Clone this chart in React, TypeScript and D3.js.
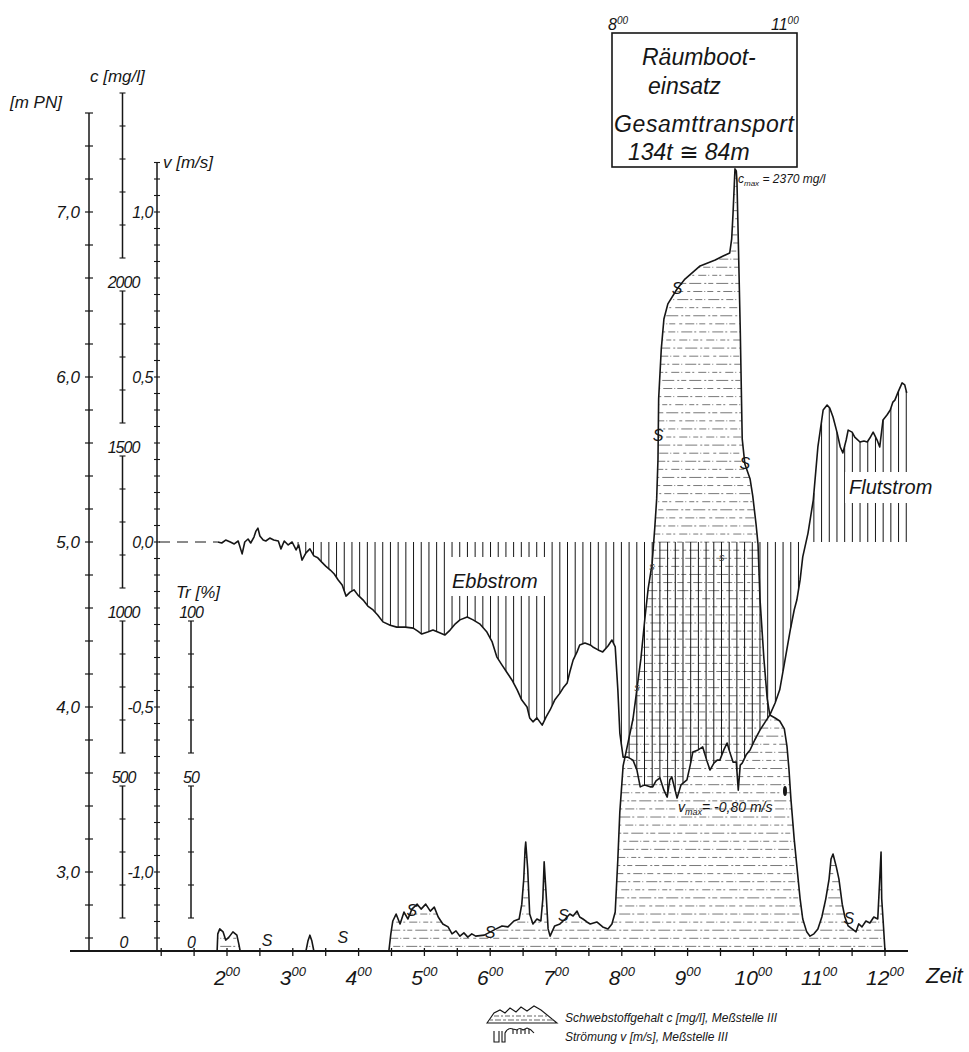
import React from "react";
import * as d3 from "d3";

// ---------------- data ----------------
const hourTicks = [2, 3, 4, 5, 6, 7, 8, 9, 10, 11, 12];
const mpnTickLabels = [7, 6, 5, 4, 3];
const cTickLabels = [0, 500, 1000, 1500, 2000];
const vTickLabels = [1, 0.5, 0, -0.5, -1];
const trTickLabels = [0, 50, 100];

// Strömung v [m/s], Meßstelle III  (time in hours)
const vTime = [
  1.86, 1.92, 1.98, 2.05, 2.11, 2.17, 2.23, 2.27, 2.32, 2.36,
  2.41, 2.44, 2.47, 2.50, 2.55, 2.59, 2.65, 2.71, 2.78, 2.82,
  2.87, 2.93, 2.99, 3.05, 3.09, 3.14, 3.20, 3.26, 3.32, 3.38,
  3.44, 3.50, 3.57, 3.63, 3.69, 3.75, 3.81, 3.87, 3.93, 3.99,
  4.07, 4.14, 4.22, 4.29, 4.37, 4.48, 4.58, 4.71, 4.83, 4.90,
  4.96, 5.05, 5.13, 5.24, 5.31, 5.39, 5.47, 5.54, 5.65, 5.74,
  5.84, 5.95, 6.03, 6.10, 6.18, 6.26, 6.33, 6.41, 6.48, 6.56,
  6.60, 6.65, 6.71, 6.79, 6.85, 6.91, 6.98, 7.06, 7.11, 7.17,
  7.21, 7.26, 7.32, 7.36, 7.44, 7.52, 7.56, 7.64, 7.71, 7.79,
  7.85, 7.90, 7.94, 7.97, 8.02, 8.09, 8.17, 8.23, 8.28, 8.35,
  8.43, 8.47, 8.52, 8.58, 8.64, 8.69, 8.73, 8.76, 8.81, 8.84,
  8.90, 8.99, 9.04, 9.08, 9.16, 9.23, 9.29, 9.34, 9.40, 9.45,
  9.49, 9.55, 9.60, 9.64, 9.69, 9.74, 9.77, 9.80, 9.83, 9.89,
  9.95, 10.02, 10.10, 10.18, 10.25, 10.33, 10.40, 10.48, 10.56, 10.62,
  10.66, 10.71, 10.75, 10.83, 10.91, 10.98, 11.06, 11.12, 11.16, 11.21,
  11.27, 11.32, 11.36, 11.41, 11.44, 11.50, 11.54, 11.62, 11.68, 11.73,
  11.77, 11.82, 11.88, 11.92, 11.97, 12.03, 12.08, 12.12, 12.15, 12.20,
  12.26, 12.30, 12.33,
];
const vValue = [
  0, -0.003, 0.006, 0, -0.006, 0.003, -0.036, 0, 0.009, -0.003,
  0.015, 0.033, 0.042, 0.018, 0.006, 0.003, 0.012, 0.006, 0.003, -0.021,
  0.003, -0.009, 0, -0.024, -0.009, -0.055, -0.033, -0.021, -0.042, -0.048,
  -0.061, -0.073, -0.085, -0.097, -0.115, -0.13, -0.164, -0.152, -0.145, -0.161,
  -0.176, -0.194, -0.206, -0.221, -0.242, -0.252, -0.258, -0.258, -0.261, -0.27,
  -0.279, -0.273, -0.267, -0.276, -0.282, -0.267, -0.248, -0.236, -0.227, -0.236,
  -0.248, -0.273, -0.303, -0.348, -0.373, -0.397, -0.418, -0.448, -0.479, -0.5,
  -0.533, -0.545, -0.533, -0.555, -0.53, -0.509, -0.479, -0.458, -0.442, -0.427,
  -0.394, -0.358, -0.333, -0.312, -0.306, -0.312, -0.318, -0.327, -0.333, -0.315,
  -0.297, -0.318, -0.448, -0.579, -0.652, -0.652, -0.661, -0.691, -0.742, -0.736,
  -0.742, -0.742, -0.724, -0.715, -0.752, -0.773, -0.721, -0.712, -0.752, -0.776,
  -0.736, -0.721, -0.676, -0.636, -0.63, -0.621, -0.661, -0.691, -0.67, -0.661,
  -0.661, -0.63, -0.609, -0.636, -0.667, -0.667, -0.752, -0.676, -0.67, -0.645,
  -0.63, -0.6, -0.57, -0.545, -0.524, -0.488, -0.448, -0.358, -0.267, -0.206,
  -0.176, -0.115, -0.045, 0.027, 0.127, 0.288, 0.4, 0.415, 0.406, 0.379,
  0.333, 0.288, 0.27, 0.309, 0.339, 0.333, 0.318, 0.303, 0.306, 0.303,
  0.315, 0.333, 0.309, 0.288, 0.37, 0.385, 0.4, 0.424, 0.43, 0.455,
  0.482, 0.476, 0.452,
];

// Schwebstoffgehalt c [mg/l], Meßstelle III
const cTime = [
  1.82, 1.85, 1.86, 1.89, 1.94, 1.98, 2.03, 2.09, 2.15, 2.18,
  2.20, 3.20, 3.23, 3.26, 3.29, 3.32, 4.46, 4.49, 4.52, 4.57,
  4.63, 4.69, 4.75, 4.81, 4.89, 4.95, 5.02, 5.09, 5.15, 5.21,
  5.28, 5.36, 5.42, 5.48, 5.54, 5.60, 5.66, 5.72, 5.78, 5.91,
  6.09, 6.18, 6.27, 6.36, 6.44, 6.48, 6.51, 6.53, 6.54, 6.57,
  6.60, 6.65, 6.71, 6.77, 6.80, 6.82, 6.85, 6.88, 6.91, 6.98,
  7.06, 7.14, 7.21, 7.26, 7.32, 7.36, 7.41, 7.47, 7.52, 7.62,
  7.71, 7.79, 7.85, 7.90, 7.94, 7.97, 8.02, 8.09, 8.17, 8.23,
  8.29, 8.35, 8.40, 8.46, 8.50, 8.53, 8.55, 8.56, 8.60, 8.64,
  8.70, 8.84, 8.96, 9.19, 9.42, 9.54, 9.64, 9.67, 9.69, 9.71,
  9.72, 9.74, 9.75, 9.77, 9.80, 9.83, 9.87, 9.95, 9.99, 10.04,
  10.07, 10.10, 10.16, 10.21, 10.25, 10.33, 10.40, 10.47, 10.51, 10.54,
  10.57, 10.62, 10.66, 10.71, 10.75, 10.81, 10.86, 10.92, 10.98, 11.04,
  11.10, 11.15, 11.18, 11.21, 11.26, 11.30, 11.35, 11.39, 11.44, 11.50,
  11.56, 11.60, 11.65, 11.71, 11.77, 11.83, 11.89, 11.92, 11.94, 11.95,
  11.97, 12.00,
];
const cValue = [
  0, 0, 52, 67, 58, 33, 42, 58, 48, 21,
  0, 0, 30, 48, 30, 0, 0, 52, 91, 112,
  82, 118, 97, 127, 142, 127, 142, 121, 133, 103,
  82, 73, 52, 61, 45, 55, 42, 52, 45, 48,
  67, 76, 73, 91, 97, 142, 218, 309, 330, 248,
  112, 82, 97, 91, 158, 270, 173, 67, 45, 76,
  82, 97, 112, 106, 121, 103, 97, 88, 82, 88,
  73, 67, 82, 118, 279, 421, 561, 627, 703, 794,
  885, 1006, 1097, 1173, 1279, 1370, 1491, 1673, 1824, 1915,
  1961, 2006, 2036, 2076, 2094, 2106, 2115, 2158, 2233, 2324,
  2370, 2364, 2333, 2158, 1885, 1552, 1476, 1430, 1379, 1294,
  1233, 1067, 885, 764, 715, 706, 697, 673, 621, 552,
  461, 339, 258, 158, 97, 58, 45, 52, 67, 103,
  158, 218, 279, 294, 255, 218, 142, 103, 76, 67,
  58, 82, 73, 91, 85, 103, 97, 218, 300, 158,
  97, 0,
];

// "S" marks written on the concentration curve
const sMarkTime = [2.61, 3.76, 4.81, 6.0, 7.11, 11.45, 8.84, 8.55, 9.87];
const sMarkConc = [30, 39, 121, 55, 106, 97, 2006, 1561, 1476];
const sSmallTime = [8.23, 8.46, 9.52];
const sSmallConc = [800, 1167, 1194];

// ---------------- layout ----------------
const W = 969;
const H = 1052;
const F = "'Liberation Sans', 'DejaVu Sans', Arial, sans-serif";
const INK = "#161616";
const AX_M = 89;
const AX_C = 122.5;
const AX_V = 157;
const AX_T = 191;
const BASE = 951;

const x = d3.scaleLinear().domain([2, 12]).range([227, 885]);
const yM = d3.scaleLinear().domain([5, 7]).range([542, 212]);
const yV = d3.scaleLinear().domain([0, 1]).range([542, 212]);
const yC = d3.scaleLinear().domain([0, 2000]).range([BASE, BASE - 660]);
const yT = d3.scaleLinear().domain([0, 100]).range([BASE, BASE - 330]);

const comma = (v: number) => (Math.abs(v) < 1e-9 ? "0,0" : v.toFixed(1).replace(".", ","));

export default function App() {
  const vData = vTime.map((t, i) => ({ t, v: vValue[i] }));
  const cData = cTime.map((t, i) => ({ t, c: cValue[i] }));

  const vLine = d3.line<any>().x((d) => x(d.t)).y((d) => yV(d.v));
  const cLine = d3.line<any>().x((d) => x(d.t)).y((d) => yC(d.c));
  const cArea = d3.area<any>().x((d) => x(d.t)).y0(yC(0)).y1((d) => yC(d.c));

  const bis = d3.bisector((d: any) => d.t).left;
  const vAt = (t: number) => {
    const i = bis(vData, t);
    if (i <= 0) return vData[0].v;
    if (i >= vData.length) return vData[vData.length - 1].v;
    const a = vData[i - 1];
    const b = vData[i];
    return a.v + ((b.v - a.v) * (t - a.t)) / (b.t - a.t);
  };

  const hatchTimes = d3.range(3.08, 12.335, 0.117);
  const cHatchLevels = d3.range(14, 2380, 24.5);

  const mTicks = d3.range(2.6, 7.61, 0.2);
  const cTicks = d3.range(100, 2601, 100);
  const vTicks = d3.range(-1.2, 1.151, 0.05);
  const tTicks = d3.range(10, 101, 10);
  const halfHours = d3.range(1, 12.01, 0.5);

  const cSegs = cTickLabels.map((L, i) => [L + 100, i < cTickLabels.length - 1 ? cTickLabels[i + 1] : 2600]);
  const tSegs = trTickLabels.slice(0, -1).map((L, i) => [L + 10, trTickLabels[i + 1]]);

  const txt = { fontFamily: F, fontStyle: "italic" as const, fill: INK };
  const dashes = ["7 2 1 3 11 2 2 3", "3 3 9 2 1 2 6 4", "12 3 2 2 5 3", "5 2 2 4 8 2 1 3"];

  return (
    <svg
      width={W}
      height={H}
      viewBox={`0 0 ${W} ${H}`}
      style={{ position: "absolute", left: 0, top: 0, background: "#fff" }}
    >
      <defs>
        <clipPath id="cclip">
          <path d={cArea(cData) || ""} />
        </clipPath>
      </defs>
      <rect x={0} y={0} width={W} height={H} fill="#fff" />

      {/* concentration fill: horizontal dashed hatching */}
      <g clipPath="url(#cclip)">
        {cHatchLevels.map((lv, i) => (
          <line
            key={i}
            x1={x(1.7) - (i % 3) * 4}
            x2={x(12.1)}
            y1={yC(lv)}
            y2={yC(lv)}
            stroke="#6a6a6a"
            strokeWidth={0.9}
            strokeDasharray={dashes[i % dashes.length]}
          />
        ))}
      </g>

      {/* current hatching (vertical lines) */}
      <g stroke={INK} strokeWidth={1}>
        {hatchTimes.map((t, i) => {
          const v = vAt(t);
          if (Math.abs(v) < 0.004) return null;
          return <line key={i} x1={x(t)} x2={x(t)} y1={yV(0)} y2={yV(v)} />;
        })}
      </g>

      {/* zero line dashed start */}
      <line x1={AX_V + 2} x2={x(vTime[0])} y1={yV(0)} y2={yV(0)} stroke={INK} strokeWidth={1} strokeDasharray="11 7" />

      {/* text knock-outs */}
      <rect x={447} y={557} width={101} height={39} fill="#fff" />
      <rect x={845} y={472} width={95} height={31} fill="#fff" />
      <text {...txt} x={452} y={588} fontSize={20}>Ebbstrom</text>
      <text {...txt} x={849} y={494} fontSize={20}>Flutstrom</text>

      {/* curves */}
      <path d={cLine(cData) || ""} fill="none" stroke={INK} strokeWidth={1.6} strokeLinejoin="round" />
      <path d={vLine(vData) || ""} fill="none" stroke={INK} strokeWidth={1.6} strokeLinejoin="round" />

      {/* S marks */}
      {sMarkTime.map((t, i) => (
        <text key={"s" + i} {...txt} x={x(t)} y={yC(sMarkConc[i]) + 5} fontSize={16} textAnchor="middle">S</text>
      ))}
      {sSmallTime.map((t, i) => (
        <text key={"ss" + i} {...txt} x={x(t)} y={yC(sSmallConc[i]) + 4} fontSize={11} textAnchor="middle" fill="#444">s</text>
      ))}

      {/* x axis */}
      <line x1={70} x2={908} y1={BASE} y2={BASE} stroke={INK} strokeWidth={2} />
      {halfHours.map((h, i) => (
        <line key={i} x1={x(h)} x2={x(h)} y1={BASE - 3} y2={BASE + 5} stroke={INK} strokeWidth={1.3} />
      ))}
      {hourTicks.map((h) => (
        <text key={h} {...txt} x={x(h)} y={985} fontSize={21} textAnchor="middle">
          {h}
          <tspan fontSize={13} dy={-9}>00</tspan>
        </text>
      ))}
      <text {...txt} x={926} y={983} fontSize={22}>Zeit</text>

      {/* m PN axis */}
      <line x1={AX_M} x2={AX_M} y1={yM(7.6)} y2={BASE} stroke={INK} strokeWidth={1.5} />
      {mTicks.map((m, i) => (
        <line key={i} x1={AX_M - 4} x2={AX_M + 4} y1={yM(m)} y2={yM(m)} stroke={INK} strokeWidth={1.2} />
      ))}
      {mpnTickLabels.map((m) => (
        <text key={m} {...txt} x={AX_M - 9} y={yM(m) + 6} fontSize={17} textAnchor="end">{comma(m)}</text>
      ))}
      <text {...txt} x={10} y={108} fontSize={17}>[m PN]</text>

      {/* c axis */}
      {cSegs.map(([a, b], i) => (
        <line key={i} x1={AX_C} x2={AX_C} y1={yC(a)} y2={yC(b)} stroke={INK} strokeWidth={1.5} />
      ))}
      {cTicks.map((c, i) => (
        <line key={i} x1={AX_C - 3} x2={AX_C + 3} y1={yC(c)} y2={yC(c)} stroke={INK} strokeWidth={1.1} />
      ))}
      {cTickLabels.map((c) => (
        <text key={c} {...txt} x={AX_C + 1} y={yC(c) - 3} fontSize={16} textAnchor="middle" letterSpacing={-1}>{c}</text>
      ))}
      <text {...txt} x={90} y={82} fontSize={17}>c [mg/l]</text>

      {/* v axis */}
      <line x1={AX_V} x2={AX_V} y1={yV(1.15)} y2={BASE} stroke={INK} strokeWidth={1.5} />
      {vTicks.map((v, i) => (
        <line key={i} x1={AX_V - 3} x2={AX_V + 3} y1={yV(v)} y2={yV(v)} stroke={INK} strokeWidth={1.1} />
      ))}
      {vTickLabels.map((v) => (
        <text key={v} {...txt} x={AX_V - 4} y={yV(v) + 6} fontSize={16} textAnchor="end" letterSpacing={-0.5}>{comma(v)}</text>
      ))}
      <text {...txt} x={163} y={168} fontSize={17}>v [m/s]</text>

      {/* Tr axis */}
      {tSegs.map(([a, b], i) => (
        <line key={i} x1={AX_T} x2={AX_T} y1={yT(a)} y2={yT(b)} stroke={INK} strokeWidth={1.5} />
      ))}
      {tTicks.map((v, i) => (
        <line key={i} x1={AX_T - 3} x2={AX_T + 3} y1={yT(v)} y2={yT(v)} stroke={INK} strokeWidth={1.1} />
      ))}
      {trTickLabels.map((v) => (
        <text key={v} {...txt} x={AX_T} y={yT(v) - 3} fontSize={16} textAnchor="middle" letterSpacing={-1}>{v}</text>
      ))}
      <text {...txt} x={176} y={598} fontSize={17}>Tr [%]</text>

      {/* annotations */}
      <text {...txt} x={738} y={183} fontSize={12}>
        c<tspan fontSize={8} dy={3}>max</tspan>
        <tspan dy={-3}> = 2370 mg/l</tspan>
      </text>
      <text {...txt} x={678} y={812} fontSize={14}>
        v<tspan fontSize={9} dy={3}>max</tspan>
        <tspan dy={-3}>= -0,80 m/s</tspan>
      </text>
      <ellipse cx={785} cy={791} rx={2} ry={5} fill={INK} />

      {/* box */}
      <rect x={612} y={33} width={185} height={134} fill="#fff" stroke={INK} strokeWidth={1.6} />
      <text {...txt} x={608} y={30} fontSize={16}>
        8<tspan fontSize={10} dy={-6}>00</tspan>
      </text>
      <text {...txt} x={771} y={30} fontSize={16}>
        11<tspan fontSize={10} dy={-6}>00</tspan>
      </text>
      <text {...txt} x={642} y={65} fontSize={23}>Räumboot-</text>
      <text {...txt} x={648} y={94} fontSize={23}>einsatz</text>
      <text {...txt} x={614} y={132} fontSize={23} textLength={180}>Gesamttransport</text>
      <text {...txt} x={628} y={160} fontSize={23}>134t ≅ 84m</text>

      {/* legend */}
      <g fill="none" stroke={INK} strokeWidth={1.1}>
        <path d="M487,1023 L494,1013 L500,1010 L505,1013 L510,1008 L516,1012 L521,1007 L527,1011 L534,1006 L541,1010 L557,1023 Z" />
        <line x1={494} x2={549} y1={1016} y2={1016} strokeDasharray="5 2 2 2" stroke="#666" />
        <line x1={490} x2={554} y1={1020} y2={1020} strokeDasharray="3 2 6 2" stroke="#666" />
        <path d="M494,1031 L494,1042 L499,1042 L499,1031 M502,1031 L502,1042 L505,1042 L505,1033 Q508,1027 513,1029 L517,1030 Q520,1027 523,1030 L527,1028 Q531,1029 534,1033" />
        <line x1={513} x2={513} y1={1029} y2={1034} />
        <line x1={517} x2={517} y1={1030} y2={1034} />
        <line x1={521} x2={521} y1={1029} y2={1034} />
        <line x1={525} x2={525} y1={1029} y2={1034} />
        <line x1={529} x2={529} y1={1029} y2={1034} />
      </g>
      <text {...txt} x={565} y={1022} fontSize={12}>Schwebstoffgehalt c [mg/l], Meßstelle III</text>
      <text {...txt} x={565} y={1041} fontSize={12}>Strömung v [m/s], Meßstelle III</text>
    </svg>
  );
}
